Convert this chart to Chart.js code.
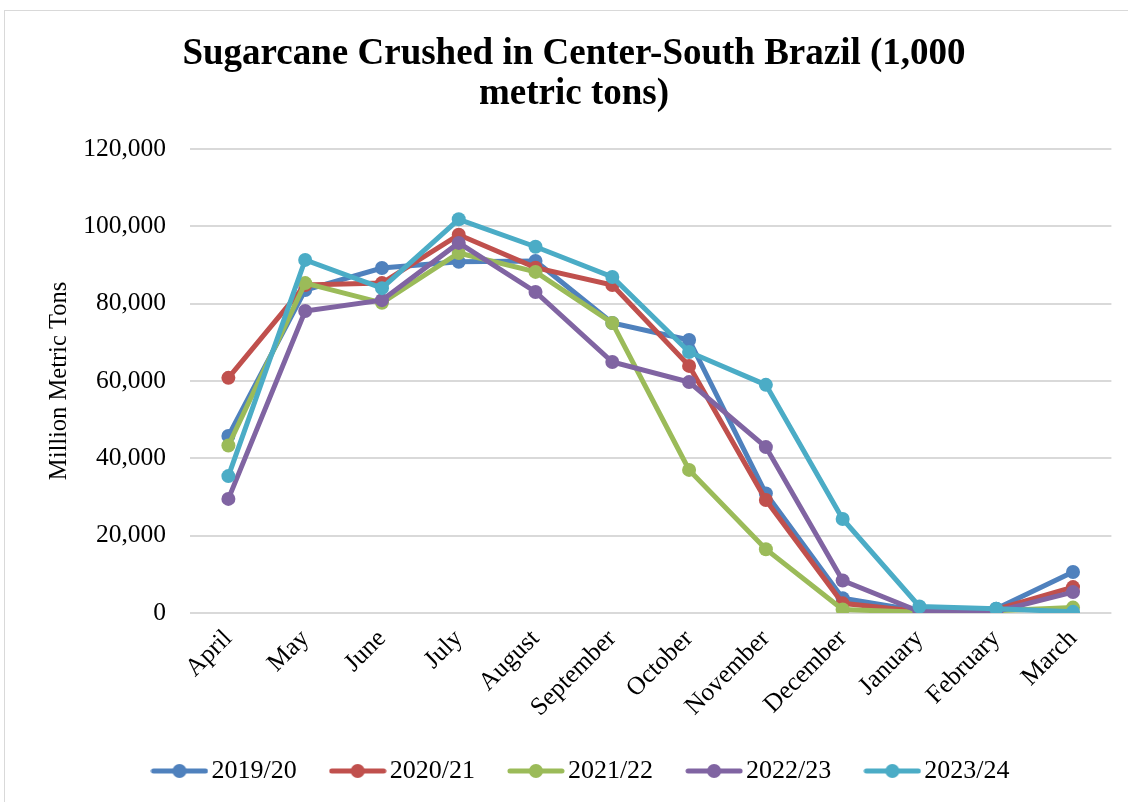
<!DOCTYPE html>
<html>
<head>
<meta charset="utf-8">
<script src="https://cdn.jsdelivr.net/npm/chart.js@4"></script>
<style>
  html, body { margin: 0; padding: 0; background: #fff; }
  #chart { display: block; }
</style>
</head>
<body>
<canvas id="chart" width="1128" height="802"></canvas>
<script>
const months = ["April", "May", "June", "July", "August", "September", "October", "November", "December", "January", "February", "March"];

const s2019 = [45800, 83500, 89200, 90800, 91000, 75000, 70600, 30900, 3800, 500, 1100, 10600];
const s2020 = [60800, 84800, 85300, 97800, 89300, 84800, 63900, 29200, 2500, 400, 900, 6700];
const s2021 = [43300, 85300, 80200, 93100, 88200, 75000, 37000, 16500, 900, 200, 600, 1400];
const s2022 = [29500, 78100, 80900, 95700, 83000, 64900, 59700, 42900, 8400, 400, 400, 5400];
const s2023 = [35400, 91300, 84000, 101800, 94700, 86900, 67500, 59000, 24300, 1700, 1100, 300];

const seriesNames = ["2019/20", "2020/21", "2021/22", "2022/23", "2023/24"];
const seriesData = [s2019, s2020, s2021, s2022, s2023];
const colors = ["#4F81BD", "#C0504D", "#9BBB59", "#8064A2", "#4BACC6"];

const yTicks = [0, 20000, 40000, 60000, 80000, 100000, 120000];

const FONT = "'Liberation Serif', 'Times New Roman', serif";

// legend marker: line with a dot in the middle, like Excel
function legendMarker(color) {
  const c = document.createElement("canvas");
  c.width = 58;
  c.height = 16;
  const ctx = c.getContext("2d");
  ctx.strokeStyle = color;
  ctx.lineWidth = 5;
  ctx.lineCap = "round";
  ctx.beginPath();
  ctx.moveTo(3, 8);
  ctx.lineTo(55, 8);
  ctx.stroke();
  ctx.fillStyle = color;
  ctx.beginPath();
  ctx.arc(29, 8, 7, 0, Math.PI * 2);
  ctx.fill();
  return c;
}
const markers = colors.map(legendMarker);

const frame = {
  id: "frame",
  beforeDraw(chart) {
    const ctx = chart.ctx;
    ctx.save();
    ctx.fillStyle = "#fff";
    ctx.fillRect(0, 0, chart.width, chart.height);
    ctx.strokeStyle = "#d9d9d9";
    ctx.lineWidth = 1;
    ctx.strokeRect(4.5, 10.5, 1200, 1000);
    ctx.restore();
  }
};

// nudge the legend a little to the right, the title stays where it is
const legendShift = {
  id: "legendShift",
  afterLayout(chart) {
    if (chart.legend) {
      chart.legend.left += 11;
      chart.legend.right += 11;
    }
  }
};

const datasets = seriesNames.map((name, i) => ({
  label: name,
  data: seriesData[i],
  borderColor: colors[i],
  backgroundColor: colors[i],
  borderWidth: 5,
  pointRadius: 7,
  pointHoverRadius: 7,
  pointBorderWidth: 0,
  tension: 0,
  order: seriesNames.length - i
}));

new Chart(document.getElementById("chart"), {
  type: "line",
  data: { labels: months, datasets },
  plugins: [frame, legendShift],
  options: {
    responsive: false,
    animation: false,
    layout: { padding: { left: 36.6, right: 16.6, top: 0, bottom: 8 } },
    plugins: {
      title: {
        display: true,
        text: ["Sugarcane Crushed in Center-South Brazil (1,000", "metric tons)"],
        color: "#000",
        font: { family: FONT, size: 37, weight: "bold", lineHeight: 1.08 },
        padding: { top: 34, bottom: 35 }
      },
      legend: {
        position: "bottom",
        labels: {
          color: "#000",
          font: { family: FONT, size: 26 },
          usePointStyle: true,
          pointStyleWidth: 38,
          padding: 42,
          generateLabels(chart) {
            const items = Chart.defaults.plugins.legend.labels.generateLabels(chart);
            items.forEach(it => { it.pointStyle = markers[it.datasetIndex]; });
            return items.sort((a, b) => a.datasetIndex - b.datasetIndex);
          }
        }
      },
      tooltip: { enabled: false }
    },
    scales: {
      x: {
        offset: true,
        grid: { display: false, offset: true },
        border: { display: false },
        ticks: {
          color: "#000",
          font: { family: FONT, size: 25.5 },
          minRotation: 45,
          maxRotation: 45,
          padding: 3
        },
        afterFit(scale) { scale.height = 103; }
      },
      y: {
        min: 0,
        max: 120000,
        afterBuildTicks(scale) { scale.ticks = yTicks.map(v => ({ value: v })); },
        grid: { color: "#d9d9d9", lineWidth: 2, drawTicks: false },
        border: { display: false },
        ticks: {
          color: "#000",
          font: { family: FONT, size: 25.5 },
          padding: 24,
          callback: v => v.toLocaleString("en-US")
        },
        title: {
          display: true,
          text: "Million Metric Tons",
          color: "#000",
          font: { family: FONT, size: 24.5 },
          padding: { top: 8.4, bottom: 0 }
        },
        afterFit(scale) { scale.width = 153.4; }
      }
    }
  }
});
</script>
</body>
</html>
